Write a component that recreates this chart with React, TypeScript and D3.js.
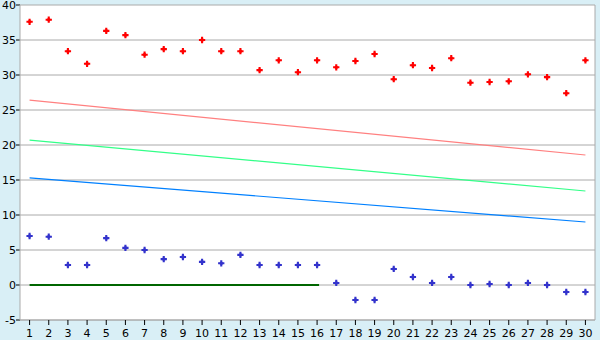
import React from "react";
import * as d3 from "d3";

const categories = Array.from({ length: 30 }, (_, i) => String(i + 1));
const redValues = [37.6, 37.9, 33.4, 31.6, 36.3, 35.7, 32.9, 33.7, 33.4, 35.0, 33.4, 33.4, 30.7, 32.1, 30.4, 32.1, 31.1, 32.0, 33.0, 29.4, 31.4, 31.0, 32.4, 28.9, 29.0, 29.1, 30.1, 29.7, 27.4, 32.1];
const blueValues = [7.0, 6.9, 2.86, 2.86, 6.7, 5.3, 5.0, 3.7, 4.0, 3.3, 3.1, 4.3, 2.86, 2.86, 2.86, 2.86, 0.29, -2.14, -2.14, 2.29, 1.14, 0.29, 1.14, 0.0, 0.14, 0.0, 0.29, 0.0, -1.0, -1.0];
const trendRed = [26.4, 18.57];
const trendGreen = [20.7, 13.43];
const trendBlue = [15.29, 9.0];
const zeroLine = { from: "1", to: "16", value: 0 };
const yTicks = [-5, 0, 5, 10, 15, 20, 25, 30, 35, 40];

const W = 600, H = 340;
const L = 20, R = 595, T = 5, B = 320;

export default function App() {
  const x = d3.scaleBand().domain(categories).range([L, R]);
  const cx = (c: string) => (x(c) as number) + x.bandwidth() / 2;
  const y = d3.scaleLinear().domain([-5, 40]).range([B, T]);
  const cross = d3.symbol().type(d3.symbolCross).size(22)();
  const dot = d3.symbol().type(d3.symbolSquare).size(8)();
  const first = categories[0], last = categories[categories.length - 1];
  const trend = (v: number[], color: string) => (
    <line x1={cx(first)} x2={cx(last)} y1={y(v[0])} y2={y(v[1])} stroke={color} strokeWidth={1.2} />
  );
  const marker = (v: number, i: number, color: string, k: string) => (
    <g key={k} transform={`translate(${cx(categories[i])},${y(v)})`} fill={color}>
      <path d={cross as string} />
      <path d={dot as string} />
    </g>
  );
  return (
    <svg width={W} height={H} style={{ position: "fixed", left: 0, top: 0 }} fontFamily="DejaVu Sans" fontSize={11}>
      <rect x={0} y={0} width={W} height={H} fill="#D9EFF6" />
      <rect x={L} y={T} width={R - L} height={B - T} fill="#fff" />
      {yTicks.map((t) => (
        <g key={t}>
          <line x1={L} x2={R} y1={y(t)} y2={y(t)} stroke="#AAAAAA" strokeWidth={1} />
          <line x1={L - 4} x2={L} y1={y(t)} y2={y(t)} stroke="#000" strokeWidth={1} />
          <text x={L - 4} y={y(t)} textAnchor="end" dominantBaseline="central" fill="#000">
            {t}
          </text>
        </g>
      ))}
      <line x1={L} x2={L} y1={T} y2={B} stroke="#AAAAAA" />
      <line x1={R} x2={R} y1={T} y2={B} stroke="#AAAAAA" />
      <line x1={L} x2={R} y1={B} y2={B} stroke="#AAAAAA" />
      {categories.map((c) => (
        <g key={c}>
          <line x1={cx(c)} x2={cx(c)} y1={B} y2={B + 5} stroke="#000" />
          <text x={cx(c)} y={B + 13} textAnchor="middle" dominantBaseline="central" fill="#000">
            {c}
          </text>
        </g>
      ))}
      {trend(trendRed, "#FF8080")}
      {trend(trendGreen, "#33FF88")}
      {trend(trendBlue, "#0080FF")}
      <line x1={cx(zeroLine.from)} x2={cx(zeroLine.to) + 2} y1={y(zeroLine.value)} y2={y(zeroLine.value)} stroke="#006600" strokeWidth={2.2} />
      {redValues.map((v, i) => marker(v, i, "#FF0000", "r" + i))}
      {blueValues.map((v, i) => marker(v, i, "#3333CC", "b" + i))}
    </svg>
  );
}
